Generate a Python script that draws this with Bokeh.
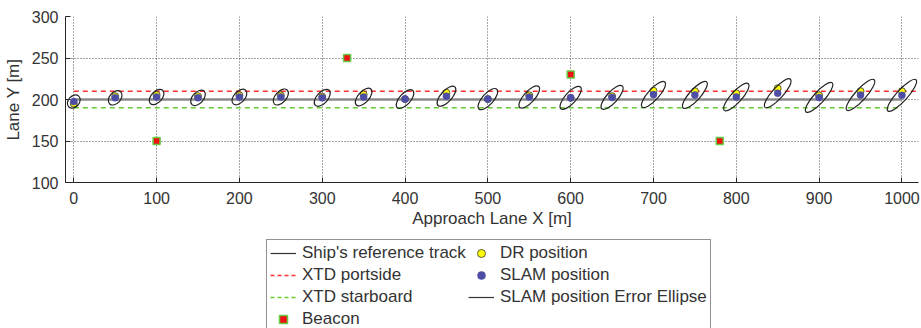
from bokeh.plotting import figure
from bokeh.models import Range1d, Legend, LegendItem, FixedTicker
from bokeh.layouts import column
from bokeh.embed import file_html
from bokeh.resources import INLINE

# ---- data ----
pos_x = [0, 50, 100, 150, 200, 250, 300, 350, 400, 450, 500,
         550, 600, 650, 700, 750, 800, 850, 900, 950, 1000]
slam_y = [197.5, 202, 203, 202, 203, 203, 202, 203, 200.5, 204, 200.5,
          203, 202, 202.5, 206, 205.5, 203, 207.5, 202.5, 205.5, 205]
dr_y = [195, 204, 205.5, 204, 205, 205, 203.5, 206, 200.5, 208, 200.5,
        205, 202, 204, 210.5, 210, 207.5, 213.5, 205, 210, 210]
ell_major = [17.8, 19.8, 21.9, 21.9, 22.2, 23.0, 24.6, 26.1, 28.0, 30.3, 32.1,
             34.0, 35.4, 36.9, 40.8, 42.3, 43.3, 45.8, 47.2, 49.4, 50.8]
ell_minor = [13.3, 13.3, 13.3, 13.3, 13.3, 13.3, 13.3, 13.3, 13.3, 13.3, 13.3,
             13.3, 13.3, 13.3, 13.3, 13.3, 13.3, 13.3, 13.3, 13.3, 13.3]
ell_angle = [48] * 21

beacon_x = [100, 330, 600, 780]
beacon_y = [150, 250, 230, 150]

track_x = [0, 1000]
track_y = [200, 200]
port_x = [0, 1020]
port_y = [210, 210]
stbd_x = [0, 1000]
stbd_y = [190, 190]

x_ticks = [0, 100, 200, 300, 400, 500, 600, 700, 800, 900, 1000]
y_ticks = [100, 150, 200, 250, 300]

FONT = "Liberation Sans"
TXT = "#333333"

p = figure(width=921, height=236,
           x_range=Range1d(-10, 1020), y_range=Range1d(100, 300),
           output_backend="svg", toolbar_location=None,
           min_border_left=64, min_border_right=3, min_border_top=16,
           min_border_bottom=54)
p.outline_line_color = None
p.background_fill_color = "white"
p.border_fill_color = "white"

# lines
r_track = p.line(track_x, track_y, line_color="#8a8a8a", line_width=2.5)
r_port = p.line(port_x, port_y, line_color="#ff3030", line_width=1.5, line_dash="5 4")
r_stbd = p.line(stbd_x, stbd_y, line_color="#66cc33", line_width=1.5, line_dash="5 4")

# beacons
r_beacon = p.scatter(beacon_x, beacon_y, marker="square", size=7,
                     fill_color="#ee1111", line_color="#66cc44", line_width=1.5)

# DR and SLAM positions
r_dr = p.scatter(pos_x, dr_y, marker="circle", size=7,
                 fill_color="#ffff00", line_color="#333333", line_width=0.8)
r_slam = p.scatter(pos_x, slam_y, marker="circle", size=7,
                   fill_color="#4d4da6", line_color="#4d4da6", line_width=0.5)

# error ellipses
r_ell = p.ellipse(x=pos_x, y=slam_y, width=ell_major, height=ell_minor,
                  angle=ell_angle, angle_units="deg",
                  fill_color=None, line_color="#222222", line_width=1.2)

# axes
p.xaxis.ticker = FixedTicker(ticks=x_ticks)
p.yaxis.ticker = FixedTicker(ticks=y_ticks)
for ax in (p.xaxis, p.yaxis):
    ax.major_tick_in = 5
    ax.major_tick_out = 0
    ax.minor_tick_in = 0
    ax.minor_tick_out = 0
    ax.axis_line_color = "#262626"
    ax.major_tick_line_color = "#262626"
    ax.major_label_text_font = FONT
    ax.major_label_text_font_size = "16px"
    ax.major_label_text_color = TXT
    ax.axis_label_text_font = FONT
    ax.axis_label_text_font_size = "17px"
    ax.axis_label_text_font_style = "normal"
    ax.axis_label_text_color = TXT
p.xaxis.axis_label = "Approach Lane X [m]"
p.yaxis.axis_label = "Lane Y [m]"
p.xaxis.major_label_standoff = 9
p.yaxis.major_label_standoff = 7
p.xaxis.axis_label_standoff = 2
p.yaxis.axis_label_standoff = 6

for g in (p.xgrid, p.ygrid):
    g.grid_line_color = "#222222"
    g.grid_line_alpha = 0.8
    g.grid_line_dash = "1 2"
    g.grid_line_width = 1

# ---- legend panel (separate figure below the plot) ----
# its ranges are chosen so that the proxy glyphs (same data) fall outside view
q = figure(width=921, height=92, x_range=Range1d(0, 1), y_range=Range1d(0, 1),
           output_backend="svg", toolbar_location=None,
           min_border_left=0, min_border_right=0, min_border_top=0,
           min_border_bottom=0)
q.axis.visible = False
q.grid.visible = False
q.outline_line_color = None
q.background_fill_color = "white"
q.border_fill_color = "white"

lg_track = q.line(track_x, track_y, line_color="#333333", line_width=1.2)
lg_port = q.line(port_x, port_y, line_color="#ff3030", line_width=1.5, line_dash="4 3")
lg_stbd = q.line(stbd_x, stbd_y, line_color="#66cc33", line_width=1.5, line_dash="4 3")
lg_beacon = q.scatter(beacon_x, beacon_y, marker="square", size=5,
                      fill_color="#ee1111", line_color="#66cc44", line_width=1.5)
lg_dr = q.scatter(pos_x, dr_y, marker="circle", size=5,
                  fill_color="#ffff00", line_color="#333333", line_width=0.8)
lg_slam = q.scatter(pos_x, slam_y, marker="circle", size=5,
                    fill_color="#4d4da6", line_color="#4d4da6", line_width=0.5)
lg_ell = q.line(track_x, track_y, line_color="#333333", line_width=1.2)

legend = Legend(items=[
    LegendItem(label="Ship's reference track", renderers=[lg_track]),
    LegendItem(label="XTD portside", renderers=[lg_port]),
    LegendItem(label="XTD starboard", renderers=[lg_stbd]),
    LegendItem(label="Beacon", renderers=[lg_beacon]),
    LegendItem(label="DR position", renderers=[lg_dr]),
    LegendItem(label="SLAM position", renderers=[lg_slam]),
    LegendItem(label="SLAM position Error Ellipse", renderers=[lg_ell]),
], nrows=4, orientation="vertical", location=(201, -5))
legend.label_text_font = FONT
legend.label_text_font_size = "17px"
legend.label_text_color = TXT
legend.border_line_color = "#262626"
legend.border_line_width = 1
legend.background_fill_color = "white"
legend.background_fill_alpha = 1
legend.glyph_width = 26
legend.glyph_height = 20
legend.label_height = 20
legend.spacing = 2
legend.padding = 3
legend.margin = 0
legend.label_standoff = 6
q.add_layout(legend, "center")

open("out.html", "w").write(file_html(column(p, q, spacing=0), INLINE))
